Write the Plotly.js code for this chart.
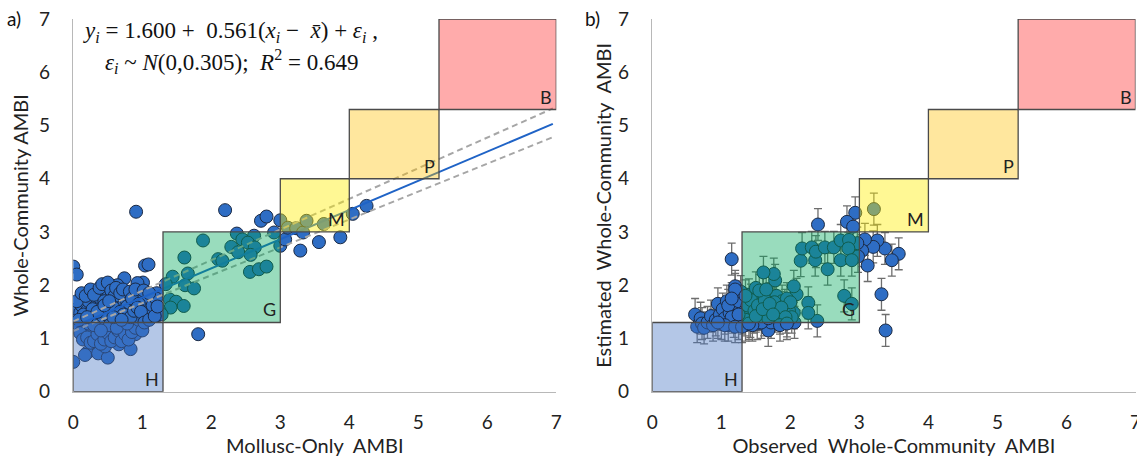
<!DOCTYPE html>
<html>
<head>
<meta charset="utf-8">
<script src="https://cdn.plot.ly/plotly-3.0.1.min.js"></script>
<style>html,body{margin:0;padding:0;background:#fff;}#chart{width:1137px;height:460px;}</style>
</head>
<body>
<div id="chart"></div>
<script>
// ---------- DATA ----------
// Panel a: Mollusc-only AMBI (x) vs Whole-community AMBI (y)
const molluscX = [
0.91,2.20,0,0.05,0,0,1.81,1.88,2.37,2.72,2.80,2.62,2.45,2.53,2.29,2.39,2.63,2.57,2.10,2.16,
1.61,1.66,1.44,1.62,1.75,1.34,1.40,1.49,1.60,1.41,2.56,2.69,2.80,2.91,3.00,3.00,3.07,3.11,3.23,3.33,
3.38,3.63,3.29,3.56,3.87,4.05,4.25,1.01,1.04,1.09,0.74,0.64,0.93,1.21,1.23,0.20,0.36,0.50,0.83,0.66,
0.46,0.17,
0.02,0.05,0.03,0.08,0.10,0.12,0.15,0.18,0.20,0.22,0.25,0.27,0.30,0.32,0.35,0.37,0.40,0.42,0.45,0.47,
0.50,0.52,0.55,0.57,0.60,0.62,0.65,0.67,0.70,0.72,0.75,0.77,0.80,0.82,0.85,0.88,0.90,0.92,0.95,0.98,
1.00,1.05,1.08,1.12,1.15,1.20,1.25,1.28,0.10,0.14,0.20,0.25,0.30,0.35,0.40,0.45,0.50,0.55,0.60,0.65,
0.70,0.75,0.80,0.85,0.90,0.95,1.00,0.05,0.12,0.18,0.25,0.30,0.38,0.42,0.45,0.50,0.55,0.60,0.62,0.68,
0.72,0.78,0.82,0.85,0.90,0.95,1.02,1.10,0.15,0.22,0.28,0.33,0.38,0.43,0.48,0.53,0.58,0.63,0.68,0.73,
0.78,0.83,0.88,0.93,0.98,1.03,1.10,1.18,1.22,0.08,0.35,0.45,0.58,0.70,0.30,0.20,0.40,0.52
];
const wholeY = [
3.38,3.41,2.35,2.20,1.67,0.56,1.08,2.84,2.97,3.21,3.29,2.93,2.86,2.80,2.72,2.62,2.71,2.57,2.49,2.46,
2.52,2.22,2.16,2.00,1.94,2.02,1.73,1.69,1.61,1.58,2.25,2.30,2.35,2.99,3.22,2.74,2.86,3.08,3.07,2.99,
3.21,3.15,2.65,2.81,2.90,3.34,3.49,2.05,2.37,2.39,2.13,2.00,2.04,1.85,1.44,0.73,0.72,0.64,0.80,0.89,
0.85,0.69,
1.42,1.55,1.30,1.25,1.48,1.62,1.38,1.20,1.52,1.70,1.33,1.15,1.45,1.60,1.28,1.78,1.40,1.05,1.55,1.22,
1.88,1.35,1.48,1.12,1.65,1.30,1.42,1.00,1.58,1.25,1.38,1.72,1.18,1.50,1.32,1.62,1.08,1.45,1.25,1.80,
1.40,1.55,1.70,1.48,1.62,1.75,1.52,1.45,1.10,0.98,1.02,0.92,0.95,1.08,0.90,0.98,1.10,0.95,1.02,1.15,
0.95,1.08,0.98,1.12,1.20,1.35,1.15,1.70,1.85,1.80,1.92,1.82,1.95,2.02,1.70,2.05,1.90,1.80,1.95,1.85,
1.92,1.60,1.88,1.75,1.92,1.65,1.90,1.85,1.45,1.28,1.55,1.38,1.22,1.32,1.45,1.25,1.58,1.20,1.50,1.45,
1.28,1.40,1.52,1.58,1.50,1.30,1.35,1.42,1.60,1.35,1.50,1.62,1.40,1.35,1.25,1.40,1.15,1.70
];
// Regression line and dashed bands (panel a)
const fitX = [0, 6.95];
const fitY = [1.22, 5.03];
const bandUpperY = [1.32, 5.32];
const bandLowerY = [1.14, 4.78];

// Panel b: Observed whole-community AMBI (x) vs Estimated (y)
const observedX = [
1.15,1.20,2.40,2.94,2.82,2.91,3.21,3.32,3.38,3.57,3.47,3.37,3.12,3.26,3.20,3.08,3.04,2.98,2.97,2.54,
2.39,2.15,2.17,2.31,2.36,2.37,2.50,2.63,2.73,2.73,2.85,2.84,2.89,2.78,2.89,2.26,2.26,2.05,2.06,2.09,
2.05,1.78,1.76,1.61,1.68,1.95,
0.62,0.65,0.70,0.72,0.75,0.80,0.85,0.88,0.92,0.95,0.98,1.00,1.02,1.05,1.08,1.10,1.12,1.15,1.18,1.20,
1.22,1.25,1.27,1.30,1.32,1.35,1.37,1.40,1.42,1.45,1.47,1.50,1.52,1.55,1.57,1.60,1.62,1.65,1.67,1.70,
1.72,1.75,1.78,1.80,1.82,1.85,1.88,1.90,1.92,1.95,1.98,2.00,2.02,1.10,1.15,1.25,1.33,1.38,1.43,1.48,
1.53,1.58,1.63,1.68,1.73,1.77,1.83,1.87,1.93,1.45,1.35,1.25,1.05,0.95,1.20,1.30,1.40,1.50,1.60,1.70,
1.28,1.20,1.55,1.65,1.75,1.85,1.95,1.15,1.35
];
const estimatedY = [
2.49,1.98,3.14,3.36,3.19,3.10,3.43,1.83,1.15,2.59,2.47,2.69,2.37,2.84,2.72,2.86,2.65,2.54,2.79,2.30,
1.33,2.46,2.69,2.71,2.47,2.63,2.71,2.71,2.47,2.84,2.85,2.69,2.47,1.80,1.65,1.67,1.48,1.48,1.30,1.83,
1.98,2.09,2.21,2.24,1.15,1.33,
1.45,1.22,1.38,1.28,1.20,1.30,1.42,1.25,1.35,1.65,1.45,1.28,1.55,1.38,1.70,1.25,1.48,1.60,1.32,1.42,
1.78,1.28,1.55,1.38,1.65,1.25,1.48,1.82,1.32,1.58,1.40,1.95,1.28,1.70,1.45,1.85,1.35,1.60,1.50,1.75,
1.30,1.62,1.42,1.80,1.55,1.38,1.70,1.48,1.62,1.75,1.52,1.68,1.40,1.62,1.40,1.70,1.50,1.62,1.72,1.52,
1.62,1.30,1.72,1.38,1.52,1.68,1.45,1.58,1.40,1.25,1.35,1.45,1.25,1.30,1.22,1.22,1.28,1.42,1.55,1.65,
1.88,1.92,1.90,1.92,1.45,1.25,1.28,1.75,1.80
];
const errHalfWidth = 0.3; // estimated uniform error-bar half width

// Ecological status classes
const classBounds = [0, 1.3, 3.0, 4.0, 5.3, 7.0];
const classLabels = ['H', 'G', 'M', 'P', 'B'];
const axisTicks = [0, 1, 2, 3, 4, 5, 6, 7];

// ---------- STYLE ----------
const classFills = ['rgba(68,114,196,0.40)', 'rgba(0,168,90,0.40)', 'rgba(255,238,0,0.42)',
                    'rgba(255,192,0,0.38)', 'rgba(255,0,0,0.33)'];
const FONT = 'Lato, "Open Sans", sans-serif';
const markerStyle = {size: 13, color: '#2e6dc4', line: {color: '#1b2a44', width: 1}};

const traces = [
  {x: molluscX, y: wholeY, type: 'scatter', mode: 'markers', marker: markerStyle, xaxis: 'x', yaxis: 'y', hoverinfo: 'none'},
  {x: fitX, y: bandUpperY, type: 'scatter', mode: 'lines', line: {color: '#a6a6a6', width: 2, dash: '6px,4px'}, xaxis: 'x', yaxis: 'y'},
  {x: fitX, y: bandLowerY, type: 'scatter', mode: 'lines', line: {color: '#a6a6a6', width: 2, dash: '6px,4px'}, xaxis: 'x', yaxis: 'y'},
  {x: fitX, y: fitY, type: 'scatter', mode: 'lines', line: {color: '#1f63c6', width: 2}, xaxis: 'x', yaxis: 'y'},
  {x: observedX, y: estimatedY, type: 'scatter', mode: 'markers', marker: markerStyle,
   error_y: {type: 'constant', value: errHalfWidth, color: '#6e6e6e', thickness: 1.3, width: 4},
   xaxis: 'x2', yaxis: 'y2', hoverinfo: 'none'}
];

const shapes = [];
const annotations = [];
[['x', 'y'], ['x2', 'y2']].forEach(([xr, yr]) => {
  for (let i = 0; i < classLabels.length; i++) {
    shapes.push({type: 'rect', xref: xr, yref: yr, layer: 'above',
      x0: classBounds[i], x1: classBounds[i + 1], y0: classBounds[i], y1: classBounds[i + 1],
      fillcolor: classFills[i], line: {color: '#4a4a4a', width: 1.3}});
    annotations.push({xref: xr, yref: yr, x: classBounds[i + 1], y: classBounds[i],
      text: classLabels[i], showarrow: false, xanchor: 'right', yanchor: 'bottom',
      xshift: -2, yshift: 0, font: {family: FONT, size: 18, color: '#222'}});
  }
});

const eqFont = {family: '"Liberation Serif", "DejaVu Serif", serif', size: 23, color: '#111'};
annotations.push(
  {xref: 'paper', yref: 'paper', x: 230 / 1137, y: 1 - 32 / 460, xanchor: 'center', yanchor: 'middle', showarrow: false,
   text: '<i>y<sub>i</sub></i> = 1.600 +  0.561(<i>x<sub>i</sub></i> −  <i>x̄</i>) + <i>ε<sub>i</sub></i> ,', font: eqFont},
  {xref: 'paper', yref: 'paper', x: 231 / 1137, y: 1 - 61 / 460, xanchor: 'center', yanchor: 'middle', showarrow: false,
   text: '<i>ε<sub>i</sub></i> ~ <i>N</i>(0,0.305);  <i>R</i><sup>2</sup> = 0.649', font: eqFont},
  {xref: 'paper', yref: 'paper', x: 14 / 1137, y: 1 - 18 / 460, xanchor: 'center', yanchor: 'middle', showarrow: false,
   text: 'a)', font: {family: FONT, size: 19, color: '#111'}},
  {xref: 'paper', yref: 'paper', x: 592 / 1137, y: 1 - 18 / 460, xanchor: 'center', yanchor: 'middle', showarrow: false,
   text: 'b)', font: {family: FONT, size: 19, color: '#111'}}
);

function xAx(domain, anchor, title) {
  return {domain: domain, anchor: anchor, range: [0, 7], tickvals: axisTicks, ticktext: axisTicks.map(String),
    showgrid: false, zeroline: false, showline: true, linecolor: '#b8b8b8', linewidth: 1.5, ticks: '',
    ticklabelstandoff: 13, ticklabeloverflow: 'allow', tickfont: {family: FONT, size: 19, color: '#222'},
    automargin: false, fixedrange: true,
    title: {text: title, standoff: 7, font: {family: FONT, size: 20, color: '#222'}}};
}
function yAx(domain, anchor, title, standoff) {
  return {domain: domain, anchor: anchor, range: [0, 7], tickvals: axisTicks, ticktext: axisTicks.map(String),
    showgrid: false, zeroline: false, showline: true, linecolor: '#b8b8b8', linewidth: 1.5, ticks: '',
    ticklabelstandoff: 18, tickfont: {family: FONT, size: 19, color: '#222'}, automargin: false, fixedrange: true,
    title: {text: title, standoff: standoff, font: {family: FONT, size: 20, color: '#222'}}};
}

const yDom = [(460 - 391.7) / 460, (460 - 19) / 460];
const layout = {
  width: 1137, height: 460, margin: {l: 0, r: 0, t: 0, b: 0},
  paper_bgcolor: '#fff', plot_bgcolor: 'rgba(0,0,0,0)', showlegend: false,
  xaxis: xAx([73.3 / 1137, 556.3 / 1137], 'y', 'Mollusc-Only  AMBI'),
  yaxis: yAx(yDom, 'x', 'Whole-Community AMBI', 5),
  xaxis2: xAx([652.3 / 1137, 1135.5 / 1137], 'y2', 'Observed  Whole-Community  AMBI'),
  yaxis2: yAx(yDom, 'x2', 'Estimated  Whole-Community  AMBI', 1),
  shapes: shapes, annotations: annotations
};

Plotly.newPlot('chart', traces, layout, {displayModeBar: false, staticPlot: true});
</script>
</body>
</html>
